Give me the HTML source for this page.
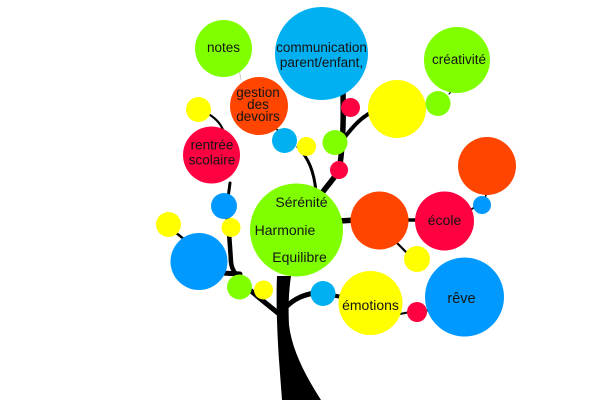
<!DOCTYPE html>
<html><head><meta charset="utf-8"><style>
html,body{margin:0;padding:0;background:#fff;}
svg{display:block;}
text{font-family:"Liberation Sans",sans-serif;fill:#151515;text-anchor:middle;}
</style></head><body>
<svg width="600" height="400" viewBox="0 0 600 400" xmlns="http://www.w3.org/2000/svg">
<!-- trunk -->
<path d="M277,276 C276,300 277,330 279,360 L282,400 L321,400 C305,375 292,350 289,325 C288,305 289,290 291,276 Z" fill="#000"/>
<!-- branches -->
<g fill="none" stroke="#000" stroke-linecap="round">
<path d="M278,313 C268,305 258,297 250,290" stroke-width="5"/>
<path d="M286,307 C295,298 304,295 314,293" stroke-width="5"/>
<path d="M226,200 C228,220 230,245 231,262 C232,272 238,276 242,282" stroke-width="4.5"/>
<path d="M222,273 L240,274" stroke-width="5"/>
<path d="M230,183 L228,198" stroke-width="3"/>
<path d="M201,110 C212,115 220,122 223,130" stroke-width="2.2"/>
<path d="M175,232 L185,240" stroke-width="2.5"/>
<path d="M322,193 C330,182 338,175 340,165 C342,150 344,130 343,93" stroke-width="5.5"/>
<path d="M344,138 C352,128 360,118 372,112" stroke-width="4"/>
<path d="M298,147 C308,158 314,170 316,192" stroke-width="3"/>
<path d="M340,221 L355,220" stroke-width="5.5"/>
<path d="M405,220 L418,220" stroke-width="3.5"/>
<path d="M396,242 L407,253" stroke-width="2.2"/>
<path d="M470,210 L477,206" stroke-width="1.8"/>
<path d="M487,193 L484,200" stroke-width="1.5"/>
<path d="M331,295 L342,297" stroke-width="4"/>
<path d="M400,314 L410,312" stroke-width="2"/>
<path d="M424,311 L430,310" stroke-width="2"/>
<path d="M449,94 L455,88" stroke-width="1.2"/>
<path d="M275,128 L280,132" stroke-width="1.5"/>
</g>
<path d="M239,68 L241,80" stroke="#ccc" stroke-width="1" fill="none"/>
<!-- circles -->
<circle cx="223.5" cy="48.5" r="28.5" fill="#80FF00"/>
<circle cx="321.5" cy="53.5" r="46.5" fill="#00B0F0"/>
<circle cx="259" cy="106" r="29" fill="#FF4500"/>
<circle cx="198.5" cy="109.5" r="12.5" fill="#FFFF00"/>
<circle cx="211.5" cy="155" r="28.5" fill="#FF0040"/>
<circle cx="284.5" cy="140.5" r="12.5" fill="#00B0F0"/>
<circle cx="306.5" cy="146.5" r="9.5" fill="#FFFF00"/>
<circle cx="350.5" cy="107.5" r="9.5" fill="#FF0040"/>
<circle cx="335" cy="142.5" r="12.5" fill="#80FF00"/>
<circle cx="339" cy="170" r="9" fill="#FF0040"/>
<circle cx="397" cy="109" r="29" fill="#FFFF00"/>
<circle cx="457" cy="60" r="33" fill="#80FF00"/>
<circle cx="438" cy="103.5" r="12.5" fill="#80FF00"/>
<circle cx="487" cy="166" r="29" fill="#FF4500"/>
<circle cx="296.5" cy="230" r="46.5" fill="#80FF00"/>
<circle cx="224" cy="206" r="13" fill="#0099FF"/>
<circle cx="231" cy="227.5" r="9.5" fill="#FFFF00"/>
<circle cx="168.5" cy="224.5" r="12.5" fill="#FFFF00"/>
<circle cx="199" cy="261.5" r="28.5" fill="#0099FF"/>
<circle cx="239.5" cy="287" r="12.5" fill="#80FF00"/>
<circle cx="263.5" cy="290" r="9.5" fill="#FFFF00"/>
<circle cx="323" cy="293.5" r="12.5" fill="#00B0F0"/>
<circle cx="379.5" cy="220.5" r="29" fill="#FF4500"/>
<circle cx="444.5" cy="221" r="29.5" fill="#FF0040"/>
<circle cx="482" cy="205" r="9" fill="#0099FF"/>
<circle cx="417" cy="259" r="13" fill="#FFFF00"/>
<circle cx="370.5" cy="303" r="32" fill="#FFFF00"/>
<circle cx="417" cy="312" r="10" fill="#FF0040"/>
<circle cx="464.5" cy="297" r="39.5" fill="#0099FF"/>
<!-- labels -->
<text x="223.5" y="52" font-size="13.5">notes</text>
<text x="321.5" y="52" font-size="13.5">communication</text>
<text x="321.5" y="67" font-size="13.5">parent/enfant,</text>
<text x="459" y="64" font-size="13.5">créativité</text>
<text x="258" y="97" font-size="13.5">gestion</text>
<text x="258" y="109" font-size="13.5">des</text>
<text x="258" y="121" font-size="13.5">devoirs</text>
<text x="212" y="149.5" font-size="13.5">rentrée</text>
<text x="212" y="164.5" font-size="13.5">scolaire</text>
<text x="301.5" y="207" font-size="14">Sérénité</text>
<text x="285" y="235" font-size="14">Harmonie</text>
<text x="299.5" y="262" font-size="14">Equilibre</text>
<text x="444.5" y="225" font-size="14">école</text>
<text x="370.5" y="310" font-size="14">émotions</text>
<text x="461.5" y="303" font-size="14.5">rêve</text>
</svg>
</body></html>
